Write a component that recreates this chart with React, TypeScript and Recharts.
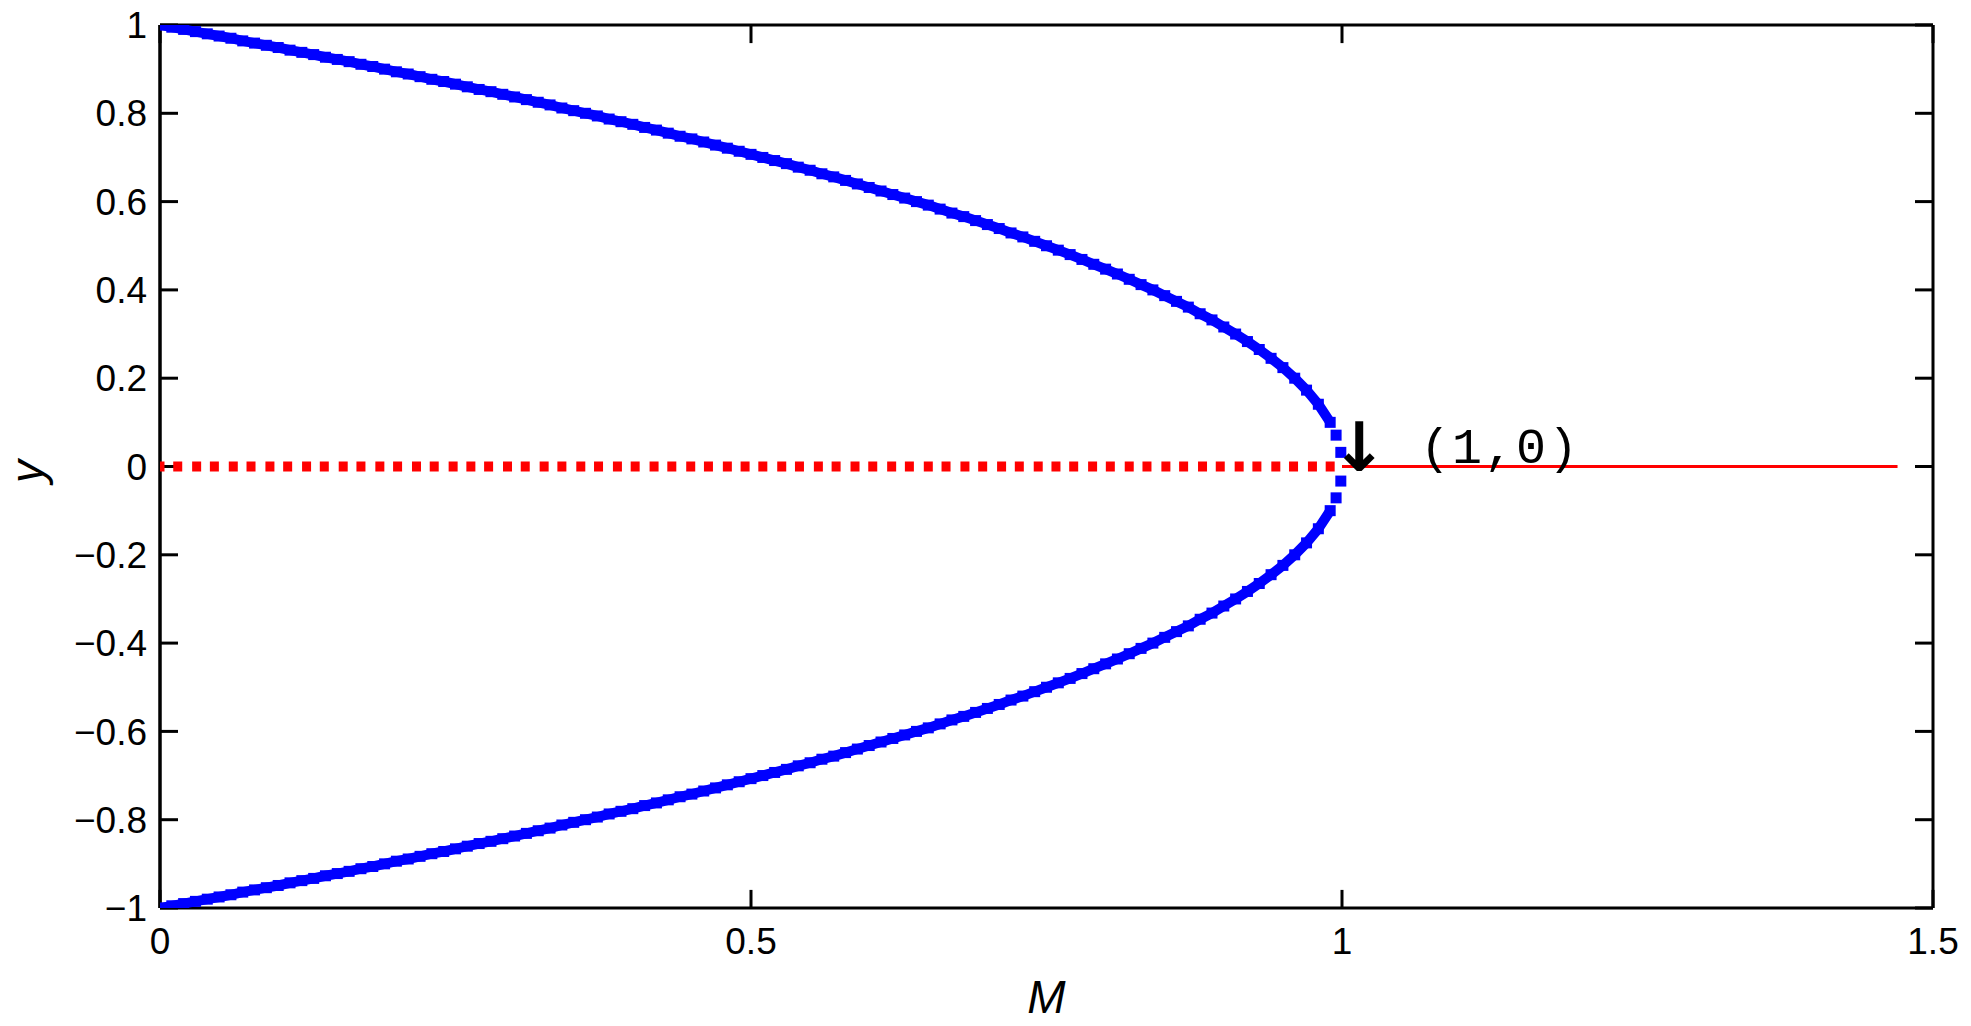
import React from 'react';
import { ScatterChart, Scatter, XAxis, YAxis, ReferenceDot, ReferenceLine } from 'recharts';

// ---- data ----
const branchM = [
  0, 0.01, 0.02, 0.03, 0.04, 0.05, 0.06, 0.07, 0.08, 0.09,
  0.1, 0.11, 0.12, 0.13, 0.14, 0.15, 0.16, 0.17, 0.18, 0.19,
  0.2, 0.21, 0.22, 0.23, 0.24, 0.25, 0.26, 0.27, 0.28, 0.29,
  0.3, 0.31, 0.32, 0.33, 0.34, 0.35, 0.36, 0.37, 0.38, 0.39,
  0.4, 0.41, 0.42, 0.43, 0.44, 0.45, 0.46, 0.47, 0.48, 0.49,
  0.5, 0.51, 0.52, 0.53, 0.54, 0.55, 0.56, 0.57, 0.58, 0.59,
  0.6, 0.61, 0.62, 0.63, 0.64, 0.65, 0.66, 0.67, 0.68, 0.69,
  0.7, 0.71, 0.72, 0.73, 0.74, 0.75, 0.76, 0.77, 0.78, 0.79,
  0.8, 0.81, 0.82, 0.83, 0.84, 0.85, 0.86, 0.87, 0.88, 0.89,
  0.9, 0.91, 0.92, 0.93, 0.94, 0.95, 0.96, 0.97, 0.98, 0.99,
];
const upperY = [
  1.0, 0.995, 0.99, 0.985, 0.98, 0.975, 0.97, 0.964, 0.959, 0.954,
  0.949, 0.943, 0.938, 0.933, 0.927, 0.922, 0.917, 0.911, 0.906, 0.9,
  0.894, 0.889, 0.883, 0.877, 0.872, 0.866, 0.86, 0.854, 0.849, 0.843,
  0.837, 0.831, 0.825, 0.819, 0.812, 0.806, 0.8, 0.794, 0.787, 0.781,
  0.775, 0.768, 0.762, 0.755, 0.748, 0.742, 0.735, 0.728, 0.721, 0.714,
  0.707, 0.7, 0.693, 0.686, 0.678, 0.671, 0.663, 0.656, 0.648, 0.64,
  0.632, 0.624, 0.616, 0.608, 0.6, 0.592, 0.583, 0.574, 0.566, 0.557,
  0.548, 0.539, 0.529, 0.52, 0.51, 0.5, 0.49, 0.48, 0.469, 0.458,
  0.447, 0.436, 0.424, 0.412, 0.4, 0.387, 0.374, 0.361, 0.346, 0.332,
  0.316, 0.3, 0.283, 0.265, 0.245, 0.224, 0.2, 0.173, 0.141, 0.1,
];
const lowerY = [
  -1.0, -0.995, -0.99, -0.985, -0.98, -0.975, -0.97, -0.964, -0.959, -0.954,
  -0.949, -0.943, -0.938, -0.933, -0.927, -0.922, -0.917, -0.911, -0.906, -0.9,
  -0.894, -0.889, -0.883, -0.877, -0.872, -0.866, -0.86, -0.854, -0.849, -0.843,
  -0.837, -0.831, -0.825, -0.819, -0.812, -0.806, -0.8, -0.794, -0.787, -0.781,
  -0.775, -0.768, -0.762, -0.755, -0.748, -0.742, -0.735, -0.728, -0.721, -0.714,
  -0.707, -0.7, -0.693, -0.686, -0.678, -0.671, -0.663, -0.656, -0.648, -0.64,
  -0.632, -0.624, -0.616, -0.608, -0.6, -0.592, -0.583, -0.574, -0.566, -0.557,
  -0.548, -0.539, -0.529, -0.52, -0.51, -0.5, -0.49, -0.48, -0.469, -0.458,
  -0.447, -0.436, -0.424, -0.412, -0.4, -0.387, -0.374, -0.361, -0.346, -0.332,
  -0.316, -0.3, -0.283, -0.265, -0.245, -0.224, -0.2, -0.173, -0.141, -0.1,
];
const tipM = [0.995, 0.999, 0.999, 0.995];
const tipY = [0.071, 0.032, -0.033, -0.071];

const unstableM = [
  0, 0.015, 0.031, 0.046, 0.062, 0.077, 0.093, 0.108, 0.124, 0.139,
  0.155, 0.17, 0.186, 0.201, 0.217, 0.232, 0.248, 0.263, 0.278, 0.294,
  0.309, 0.325, 0.34, 0.356, 0.371, 0.387, 0.402, 0.418, 0.433, 0.449,
  0.464, 0.48, 0.495, 0.51, 0.526, 0.541, 0.557, 0.572, 0.588, 0.603,
  0.619, 0.634, 0.65, 0.665, 0.681, 0.696, 0.712, 0.727, 0.743, 0.758,
  0.773, 0.789, 0.804, 0.82, 0.835, 0.851, 0.866, 0.882, 0.897, 0.913,
  0.928, 0.944, 0.959, 0.975, 0.99,
];
const unstableY = 0;
const stableM = [1.0, 1.47];
const stableY = [0, 0];

const xTicks = [0, 0.5, 1, 1.5];
const yTicks = [-1, -0.8, -0.6, -0.4, -0.2, 0, 0.2, 0.4, 0.6, 0.8, 1];
const xLabel = 'M';
const yLabel = 'y';
const pointLabel = '(1,0)';
const arrowGlyph = '↓';

// ---- build tables ----
const upperData = branchM.map((m, i) => ({ m, y: upperY[i] }));
const lowerData = branchM.map((m, i) => ({ m, y: lowerY[i] }));
const tipData = tipM.map((m, i) => ({ m, y: tipY[i] }));
const unstableData = unstableM.map((m) => ({ m, y: unstableY }));
const stableData = stableM.map((m, i) => ({ m, y: stableY[i] }));

const BLUE = '#0000ff';
const RED = '#ff0000';
const FONT = '"Liberation Sans", Arial, sans-serif';

const W = 1971;
const H = 1026;
const Y_MIN = -1;
const Y_MAX = 1;
const TICK_LEN = 0.041; // inward tick length in y-data units (~18px)

const box = (color: string, w: number, h: number) => (props: any) => {
  const { cx, cy } = props;
  if (cx == null || cy == null) return <g />;
  return <rect x={cx - w / 2} y={cy - h / 2} width={w} height={h} fill={color} />;
};
const nothing = () => <g />;
const emptyTick = () => <g />;

const fmtY = (v: number) => (v < 0 ? '\u2212' + String(Math.abs(v)) : String(v));

const tickStyle = { fontFamily: FONT, fontSize: 37, fill: '#000' };

const Annotation = (props: any) => {
  const vb = props.viewBox || {};
  const cx = vb.x + (vb.width || 0) / 2;
  const cy = vb.y + (vb.height || 0) / 2;
  return (
    <g>
      <text x={cx + 17} y={cy + 4} textAnchor="middle" fontFamily='"DejaVu Sans", sans-serif' fontWeight="bold" fontSize={68} fill="#000">
        {arrowGlyph}
      </text>
      <text x={cx + 158} y={cy - 4} textAnchor="middle" fontFamily='"Liberation Mono", monospace' fontSize={50} letterSpacing={2} fill="#000">
        {pointLabel}
      </text>
    </g>
  );
};

const XLabel = (props: any) => {
  const vb = props.viewBox || {};
  return (
    <text x={vb.x + vb.width / 2} y={1013} textAnchor="middle" fontFamily={FONT} fontStyle="italic" fontSize={46} fill="#000">
      {xLabel}
    </text>
  );
};

const YLabel = (props: any) => {
  const vb = props.viewBox || {};
  const x = 43;
  const y = vb.y + vb.height / 2 + 5;
  return (
    <text x={x} y={y} transform={`rotate(-90 ${x} ${y})`} textAnchor="middle" fontFamily={FONT} fontStyle="italic" fontSize={46} fill="#000">
      {yLabel}
    </text>
  );
};

const axisLine = { stroke: '#000', strokeWidth: 3 };
const tickLineStyle = { stroke: '#000', strokeWidth: 3 };

export default function App() {
  return (
    <div style={{ width: W, height: H, margin: -8, background: '#fff' }}>
      <ScatterChart width={W} height={H} margin={{ top: 25, right: 38, bottom: 0, left: 0 }}>
        <XAxis
          xAxisId="x"
          dataKey="m"
          type="number"
          domain={[0, 1.5]}
          ticks={xTicks}
          interval={0}
          orientation="bottom"
          height={118}
          tickLine={false}
          tickSize={0}
          tickMargin={20}
          tick={tickStyle}
          axisLine={axisLine}
          allowDataOverflow
          label={XLabel}
        />
        <XAxis
          xAxisId="xt"
          type="number"
          domain={[0, 1.5]}
          ticks={xTicks}
          interval={0}
          orientation="top"
          mirror
          height={1}
          tick={emptyTick}
          tickLine={false}
          axisLine={axisLine}
          allowDataOverflow
        />
        <YAxis
          yAxisId="y"
          dataKey="y"
          type="number"
          domain={[Y_MIN, Y_MAX]}
          ticks={yTicks}
          interval={0}
          orientation="left"
          width={160}
          tickLine={false}
          tickSize={0}
          tickMargin={13}
          tick={tickStyle}
          tickFormatter={fmtY}
          axisLine={axisLine}
          allowDataOverflow
          label={YLabel}
        />
        <YAxis
          yAxisId="yl"
          type="number"
          domain={[Y_MIN, Y_MAX]}
          ticks={yTicks}
          interval={0}
          orientation="left"
          mirror
          width={1}
          tick={emptyTick}
          tickSize={18}
          tickLine={tickLineStyle}
          axisLine={axisLine}
          allowDataOverflow
        />
        <YAxis
          yAxisId="yr"
          type="number"
          domain={[Y_MIN, Y_MAX]}
          ticks={yTicks}
          interval={0}
          orientation="right"
          mirror
          width={1}
          tick={emptyTick}
          tickSize={18}
          tickLine={tickLineStyle}
          axisLine={axisLine}
          allowDataOverflow
        />
        {xTicks.map((t) => (
          <ReferenceLine
            key={'tt' + t}
            xAxisId="x"
            yAxisId="y"
            segment={[{ x: t, y: Y_MAX }, { x: t, y: Y_MAX - TICK_LEN }]}
            stroke="#000"
            strokeWidth={3}
            ifOverflow="visible"
          />
        ))}
        {xTicks.map((t) => (
          <ReferenceLine
            key={'tb' + t}
            xAxisId="x"
            yAxisId="y"
            segment={[{ x: t, y: Y_MIN }, { x: t, y: Y_MIN + TICK_LEN }]}
            stroke="#000"
            strokeWidth={3}
            ifOverflow="visible"
          />
        ))}
        <Scatter
          name="unstable"
          data={unstableData}
          dataKey="y"
          xAxisId="x"
          yAxisId="y"
          fill={RED}
          shape={box(RED, 9, 10)}
          isAnimationActive={false}
        />
        <Scatter
          name="stable"
          data={stableData}
          dataKey="y"
          xAxisId="x"
          yAxisId="y"
          fill={RED}
          line={{ stroke: RED, strokeWidth: 3 }}
          lineType="joint"
          shape={nothing}
          isAnimationActive={false}
        />
        <Scatter
          name="upper"
          data={upperData}
          dataKey="y"
          xAxisId="x"
          yAxisId="y"
          fill={BLUE}
          line={{ stroke: BLUE, strokeWidth: 10 }}
          lineType="joint"
          shape={box(BLUE, 11, 11)}
          isAnimationActive={false}
        />
        <Scatter
          name="lower"
          data={lowerData}
          dataKey="y"
          xAxisId="x"
          yAxisId="y"
          fill={BLUE}
          line={{ stroke: BLUE, strokeWidth: 10 }}
          lineType="joint"
          shape={box(BLUE, 11, 11)}
          isAnimationActive={false}
        />
        <Scatter
          name="tip"
          data={tipData}
          dataKey="y"
          xAxisId="x"
          yAxisId="y"
          fill={BLUE}
          shape={box(BLUE, 11, 11)}
          isAnimationActive={false}
        />
        <ReferenceDot
          x={1}
          y={0}
          xAxisId="x"
          yAxisId="y"
          r={0}
          fill="none"
          stroke="none"
          ifOverflow="visible"
          label={Annotation}
        />
      </ScatterChart>
    </div>
  );
}
